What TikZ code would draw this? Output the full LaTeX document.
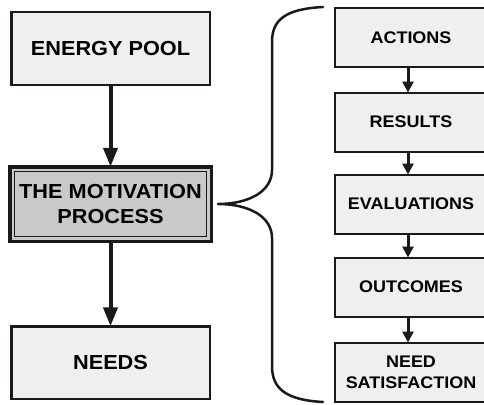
\documentclass[tikz,border=0pt]{standalone}
\usepackage{fontspec}
\setmainfont{Liberation Sans}
\newfontfamily\boxfont[FakeStretch=1.07]{Liberation Sans}
\usetikzlibrary{arrows.meta,calc}
\definecolor{boxlight}{HTML}{EEEFF0}
\definecolor{boxmid}{HTML}{C8C9CA}
\definecolor{ink}{HTML}{1A1A1A}
\tikzset{
  bigbox/.style={draw=ink, line width=2.5pt, fill=boxlight, outer sep=0pt, inner sep=0pt,
    align=center, font=\boxfont\fontsize{20.3}{25}\selectfont\bfseries},
  midbox/.style={bigbox, line width=3.5pt, fill=boxmid},
  smallbox/.style={draw=ink, line width=2pt, fill=boxlight, outer sep=0pt, inner sep=0pt,
    align=center, minimum width=152pt, minimum height=59pt,
    font=\boxfont\fontsize{16.8}{21}\selectfont\bfseries},
  bigarrow/.style={draw=ink, line width=4pt, -{Triangle[length=19pt,width=14pt]}},
  smallarrow/.style={draw=ink, line width=3pt, -{Triangle[length=11pt,width=11pt]}},
  bracepath/.style={draw=ink, line width=2.5pt, line cap=round, line join=round}
}
\begin{document}
\begin{tikzpicture}[x=1pt,y=-1pt]
\useasboundingbox (0,0) rectangle (484,404);
\fill[white] (0,0) rectangle (484,404);
% left column
\node[bigbox, minimum width=198.5pt, minimum height=72.5pt] (energy) at (110.5,48.5) {ENERGY POOL};
\node[midbox, minimum width=201.5pt, minimum height=74.5pt] (motiv) at (110.5,204) {THE MOTIVATION\\PROCESS};
\draw[ink, line width=1.2pt] ([shift={(4.5,4.5)}]motiv.north west) rectangle ([shift={(-4.5,-4.5)}]motiv.south east);
\node[bigbox, minimum width=198.5pt, minimum height=72.5pt] (needs) at (110.5,362.5) {NEEDS};
\draw[bigarrow] (energy.south) -- (motiv.north);
\draw[bigarrow] (motiv.south) -- (needs.north);
% right column
\node[smallbox] (actions) at (411,37.5) {ACTIONS};
\node[smallbox] (results) at (411,122) {RESULTS};
\node[smallbox] (evals) at (411,204) {EVALUATIONS};
\node[smallbox] (outcomes) at (411,287) {OUTCOMES};
\node[smallbox] (needsat) at (411,372) {NEED\\SATISFACTION};
\coordinate (ax) at (408,0);
\draw[smallarrow] (actions.south -| ax) -- (results.north -| ax);
\draw[smallarrow] (results.south -| ax) -- (evals.north -| ax);
\draw[smallarrow] (evals.south -| ax) -- (outcomes.north -| ax);
\draw[smallarrow] (outcomes.south -| ax) -- (needsat.north -| ax);
% brace
\coordinate (btop) at (323,7);
\coordinate (bbot) at (323,402);
\coordinate (btip) at (218,204);
\draw[bracepath] (btop) .. controls (285,9) and (272,20) .. (272,42)
  -- (272,170) .. controls (272,192) and (248,204) .. (btip)
  .. controls (248,204) and (272,216) .. (272,238)
  -- (272,366) .. controls (272,388) and (285,400) .. (bbot);
\end{tikzpicture}
\end{document}
